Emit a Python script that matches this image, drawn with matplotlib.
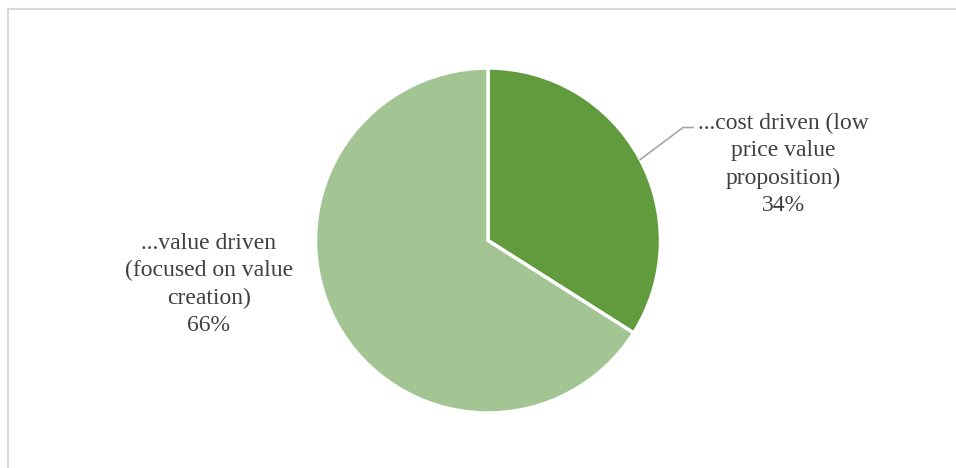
import matplotlib.pyplot as plt
import numpy as np

labels = ["...cost driven (low\nprice value\nproposition)", "...value driven\n(focused on value\ncreation)"]
shares = [34, 66]
colors = ["#629B3D", "#A3C593"]

plt.rcParams["font.family"] = ["Liberation Serif", "DejaVu Serif"]

W, H = 956, 468
fig = plt.figure(figsize=(W / 100, H / 100), dpi=100)
ax = fig.add_axes([0, 0, 1, 1])

cx, cy, r = 488, H - 240.5, 172.5
ax.pie(shares, colors=colors, startangle=90, counterclock=False, center=(cx, cy),
       radius=r, frame=True, wedgeprops=dict(edgecolor="white", linewidth=2.5))
ax.set_xlim(0, W)
ax.set_ylim(0, H)
ax.set_aspect("equal")
ax.axis("off")

# chart frame (top and left edges visible)
ax.plot([8.5, 8.5, W], [0, H - 8.5, H - 8.5], color="#D9D9D9", lw=1.5, solid_capstyle="butt")

txt = dict(ha="center", va="center", fontsize=17, color="#404040", linespacing=1.39)
ax.text(783, H - 164.5, f"{labels[0]}\n{shares[0]}%", **txt)
ax.text(209, H - 284.5, f"{labels[1]}\n{shares[1]}%", **txt)

# leader line for the small slice
ang = np.deg2rad(28)
x0, y0 = cx + r * np.cos(ang), cy + r * np.sin(ang)
ax.plot([x0, 683, 693], [y0, H - 127.5, H - 127.5], color="#A6A6A6", lw=1.2)

fig.savefig("out.png", dpi=100)
